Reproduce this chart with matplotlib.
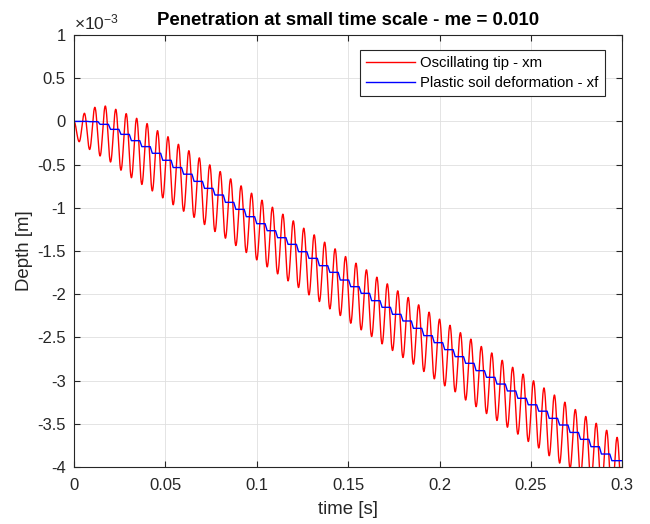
import numpy as np
import matplotlib.pyplot as plt
from matplotlib.ticker import FuncFormatter

plt.rcParams['font.family'] = ['Liberation Sans', 'DejaVu Sans']
plt.rcParams['axes.unicode_minus'] = False
plt.rcParams['mathtext.fontset'] = 'custom'
plt.rcParams['mathtext.rm'] = 'Liberation Sans'
plt.rcParams['mathtext.it'] = 'Liberation Sans:italic'

FREQ = 175.0   # tip oscillation frequency [Hz]
T_END = 0.3    # simulated time [s]
SCALE = 1e-3   # depths below are in units of 1e-3 m

# plastic soil deformation xf held during cycle k (changes at each trough)
xf_steps = [
    0.000, 0.000, -0.003, -0.034, -0.092, -0.150, -0.223, -0.292, -0.369, -0.450,
    -0.534, -0.611, -0.694, -0.775, -0.852, -0.937, -1.018, -1.103, -1.184, -1.265,
    -1.346, -1.423, -1.508, -1.585, -1.670, -1.747, -1.836, -1.913, -1.990, -2.075,
    -2.152, -2.233, -2.310, -2.395, -2.480, -2.561, -2.642, -2.723, -2.800, -2.885,
    -2.962, -3.040, -3.120, -3.205, -3.280, -3.354, -3.437, -3.514, -3.600, -3.680,
    -3.765, -3.850, -3.927,
]

# oscillating tip xm at each crest, t = k / f
xm_crest = [
    0.000, 0.094, 0.163, 0.178, 0.140, 0.090, 0.036, -0.025, -0.107, -0.177,
    -0.265, -0.339, -0.422, -0.503, -0.580, -0.665, -0.746, -0.831, -0.912, -0.993,
    -1.074, -1.151, -1.236, -1.313, -1.398, -1.475, -1.564, -1.641, -1.718, -1.803,
    -1.880, -1.961, -2.038, -2.123, -2.208, -2.289, -2.360, -2.445, -2.520, -2.605,
    -2.680, -2.765, -2.846, -2.925, -3.002, -3.085, -3.167, -3.250, -3.335, -3.415,
    -3.494, -3.575, -3.657,
]

# oscillating tip xm at each trough, t = (k + 0.5) / f
xm_trough = [
    -0.235, -0.325, -0.400, -0.470, -0.565, -0.652, -0.730, -0.805, -0.885, -0.965,
    -1.040, -1.111, -1.194, -1.275, -1.352, -1.437, -1.518, -1.603, -1.684, -1.765,
    -1.846, -1.923, -2.008, -2.085, -2.170, -2.247, -2.336, -2.413, -2.490, -2.575,
    -2.652, -2.733, -2.810, -2.895, -2.980, -3.061, -3.130, -3.225, -3.302, -3.382,
    -3.462, -3.540, -3.620, -3.705, -3.780, -3.870, -3.955, -4.014, -4.100, -4.180,
    -4.265, -4.350, -4.430,
]

x_ticks = [0, 0.05, 0.1, 0.15, 0.2, 0.25, 0.3]
y_ticks = [1, 0.5, 0, -0.5, -1, -1.5, -2, -2.5, -3, -3.5, -4]


def tip_curve():
    # half-cosine swings between consecutive crests and troughs
    period = 1.0 / FREQ
    s = np.linspace(0, 1, 25)
    ts, ys = [], []
    for k, low in enumerate(xm_trough):
        high = xm_crest[k]
        ts.append((k + 0.5 * s) * period)
        ys.append(low + (high - low) * (1 + np.cos(np.pi * s)) / 2)
        if k + 1 < len(xm_crest):
            nxt = xm_crest[k + 1]
            ts.append((k + 0.5 + 0.5 * s) * period)
            ys.append(low + (nxt - low) * (1 - np.cos(np.pi * s)) / 2)
    return np.concatenate(ts), np.concatenate(ys) * SCALE


def soil_curve():
    # staircase: xf drops while the tip pushes into its trough
    period = 1.0 / FREQ
    ts, ys = [0.0], [xf_steps[0]]
    for k in range(len(xf_steps) - 1):
        ts += [(k + 0.3) * period, (k + 0.5) * period]
        ys += [xf_steps[k], xf_steps[k + 1]]
    ts.append(T_END)
    ys.append(xf_steps[-1])
    return np.array(ts), np.array(ys) * SCALE


fig = plt.figure(figsize=(6.5, 5.24), dpi=100)
ax = fig.add_axes([0.1138, 0.1088, 0.8436, 0.8244])

t_m, x_m = tip_curve()
t_f, x_f = soil_curve()
ax.plot(t_m, x_m, color='#FF0000', lw=1.0, label='Oscillating tip - xm')
ax.plot(t_f, x_f, color='#0000FF', lw=1.0, label='Plastic soil deformation - xf')

ax.set_xlim(0, T_END)
ax.set_ylim(-4 * SCALE, 1 * SCALE)
ax.set_xticks(x_ticks)
ax.set_yticks([v * SCALE for v in y_ticks])
ax.xaxis.set_major_formatter(FuncFormatter(lambda v, p: f'{v:g}'))
ax.yaxis.set_major_formatter(FuncFormatter(lambda v, p: f'{round(v / SCALE, 6):g}'))

dark = '#262626'
ax.grid(True, color='#DFDFDF', lw=0.6)
ax.set_axisbelow(True)
for sp in ax.spines.values():
    sp.set_color(dark)
    sp.set_linewidth(0.8)
ax.tick_params(direction='in', length=4, width=0.8, colors=dark, labelsize=12,
               top=True, right=True)
ax.tick_params(axis='x', pad=8)
ax.tick_params(axis='y', pad=6)

ax.set_xlabel('time [s]', fontsize=13.4, color=dark, labelpad=6)
ax.set_ylabel('Depth [m]', fontsize=13.4, color=dark, labelpad=3)
ax.set_title('Penetration at small time scale - me = 0.010', fontsize=13.4,
             fontweight='bold', color='black', pad=7)
ax.text(0.0, 1.006, r'$\times10^{-3}$', transform=ax.transAxes, ha='left',
        va='bottom', fontsize=12.5, color=dark)

leg = ax.legend(loc='upper right', bbox_to_anchor=(0.968, 0.965), borderaxespad=0,
                fancybox=False, framealpha=1, edgecolor=dark, fontsize=10.7,
                handlelength=3.3, handletextpad=0.35, borderpad=0.42,
                labelspacing=0.38)
leg.get_frame().set_linewidth(0.8)

fig.savefig('out.png', dpi=100)
